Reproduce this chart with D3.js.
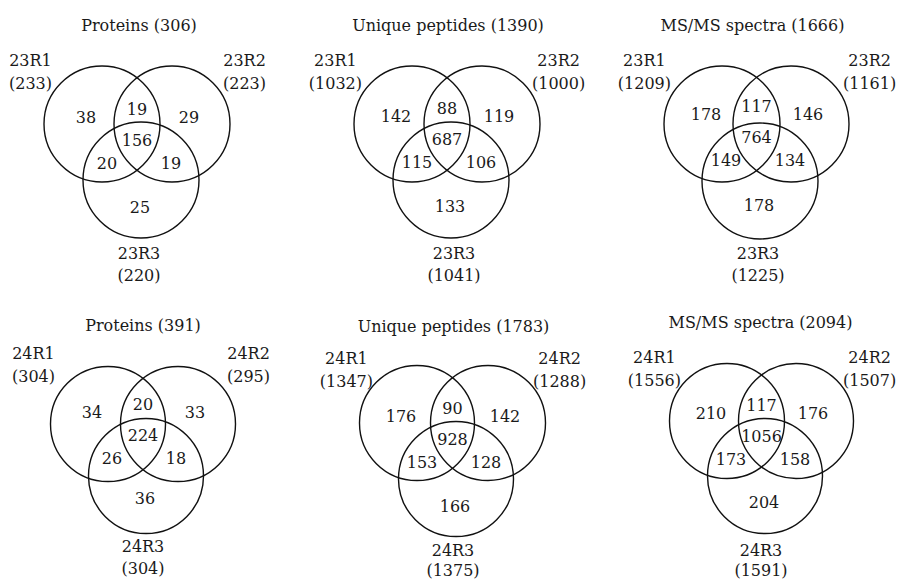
<!DOCTYPE html>
<html>
<head>
<meta charset="utf-8">
<script src="https://cdn.jsdelivr.net/npm/d3@7"></script>
<style>
  html, body { margin: 0; padding: 0; background: #fff; }
  svg text { font-family: "DejaVu Serif", "Liberation Serif", serif; fill: #1a1a1a; }
</style>
</head>
<body>
<svg id="chart" width="898" height="580"></svg>
<script>
// ---------------- DATA ----------------
const panelTitles = ["Proteins", "Unique peptides", "MS/MS spectra", "Proteins", "Unique peptides", "MS/MS spectra"];
const panelTotals = [306, 1390, 1666, 391, 1783, 2094];
const setNames = [
  ["23R1", "23R2", "23R3"], ["23R1", "23R2", "23R3"], ["23R1", "23R2", "23R3"],
  ["24R1", "24R2", "24R3"], ["24R1", "24R2", "24R3"], ["24R1", "24R2", "24R3"]
];
const setTotals = [
  [233, 223, 220], [1032, 1000, 1041], [1209, 1161, 1225],
  [304, 295, 304], [1347, 1288, 1375], [1556, 1507, 1591]
];
// region order: R1 only, R1∩R2, R2 only, all three, R1∩R3, R2∩R3, R3 only
const regionKeys = ["A", "AB", "B", "ABC", "AC", "BC", "C"];
const regionCounts = [
  [38, 19, 29, 156, 20, 19, 25],
  [142, 88, 119, 687, 115, 106, 133],
  [178, 117, 146, 764, 149, 134, 178],
  [34, 20, 33, 224, 26, 18, 36],
  [176, 90, 142, 928, 153, 128, 166],
  [210, 117, 176, 1056, 173, 158, 204]
];

// ---------------- LAYOUT ----------------
const layout = [
  {ax: 102, ay: 124, d: 70, cdx: 39, cdy: 56, r: 58, rdy: 0,  lx: 50, rx: 51, ny: -64, c3x: -2, c3y: 73, c3g: 22, ty: -99, tx: 2},
  {ax: 412, ay: 124, d: 70, cdx: 39, cdy: 56, r: 58, rdy: -1, lx: 50, rx: 50, ny: -64, c3x: 3,  c3y: 73, c3g: 22, ty: -99, tx: 1},
  {ax: 722, ay: 124, d: 69, cdx: 38, cdy: 57, r: 58, rdy: -3, lx: 51, rx: 52, ny: -64, c3x: -2, c3y: 72, c3g: 22, ty: -99, tx: -4},
  {ax: 108, ay: 424, d: 70, cdx: 38, cdy: 52, r: 57.5, rdy: -5, lx: 53, rx: 49, ny: -71, c3x: -3, c3y: 70, c3g: 22, ty: -99, tx: 0},
  {ax: 417, ay: 423, d: 71, cdx: 39, cdy: 56, r: 57.5, rdy: 0, lx: 44, rx: 45, ny: -65, c3x: -3, c3y: 71, c3g: 20, ty: -97, tx: 1},
  {ax: 727, ay: 421, d: 69, cdx: 38, cdy: 55, r: 57.5, rdy: -1, lx: 46, rx: 47, ny: -64, c3x: -4, c3y: 74, c3g: 20, ty: -99, tx: -1}
];
const fontSize = 16;
const lineGap = 23;

const svg = d3.select("#chart");

layout.forEach((L, i) => {
  // unit-space scales: circle A at (0,0), B at (1,0)
  const x = d3.scaleLinear().domain([0, 1]).range([L.ax, L.ax + L.d]);
  const y = d3.scaleLinear().domain([0, 1]).range([L.ay, L.ay + L.d]);
  const cU = [L.cdx / L.d, L.cdy / L.d];
  const centers = [[0, 0], [1, 0], cU];

  const g = svg.append("g");

  g.selectAll("circle").data(centers).enter().append("circle")
    .attr("cx", c => x(c[0])).attr("cy", c => y(c[1])).attr("r", L.r)
    .attr("fill", "none").attr("stroke", "#111").attr("stroke-width", 1.4);

  const ax = x(0), bx = x(1), cx = x(cU[0]), cy = y(cU[1]), ay = y(0);
  const mid = (ax + bx) / 2;
  const pos = {
    A:   [ax - 16, ay - 7],
    AB:  [mid, ay - 15],
    B:   [bx + 17, ay - 7],
    ABC: [mid, ay + 16],
    AC:  [cx - 34, ay + 39],
    BC:  [cx + 30, ay + 39],
    C:   [cx - 1, cy + 27]
  };

  g.selectAll("text.region").data(regionCounts[i]).enter().append("text")
    .attr("class", "region")
    .attr("x", (v, k) => pos[regionKeys[k]][0])
    .attr("y", (v, k) => pos[regionKeys[k]][1] + L.rdy)
    .attr("dy", "0.36em")
    .attr("text-anchor", "middle")
    .attr("font-size", fontSize)
    .text(v => v);

  // title
  g.append("text")
    .attr("x", mid + L.tx).attr("y", ay + L.ty).attr("dy", "0.36em")
    .attr("text-anchor", "middle").attr("font-size", fontSize)
    .text(`${panelTitles[i]} (${panelTotals[i]})`);

  // left set label (R1): count right-aligned, name centred over it
  const leftCount = g.append("text")
    .attr("x", ax - L.lx).attr("y", ay + L.ny + lineGap).attr("dy", "0.36em")
    .attr("text-anchor", "end").attr("font-size", fontSize)
    .text(`(${setTotals[i][0]})`);
  const lw = leftCount.node().getComputedTextLength();
  g.append("text")
    .attr("x", ax - L.lx - lw / 2).attr("y", ay + L.ny).attr("dy", "0.36em")
    .attr("text-anchor", "middle").attr("font-size", fontSize)
    .text(setNames[i][0]);

  // right set label (R2): count left-aligned, name centred over it
  const rightCount = g.append("text")
    .attr("x", bx + L.rx).attr("y", ay + L.ny + lineGap).attr("dy", "0.36em")
    .attr("text-anchor", "start").attr("font-size", fontSize)
    .text(`(${setTotals[i][1]})`);
  const rw = rightCount.node().getComputedTextLength();
  g.append("text")
    .attr("x", bx + L.rx + rw / 2).attr("y", ay + L.ny).attr("dy", "0.36em")
    .attr("text-anchor", "middle").attr("font-size", fontSize)
    .text(setNames[i][1]);

  // bottom set label (R3)
  g.append("text")
    .attr("x", cx + L.c3x).attr("y", cy + L.c3y).attr("dy", "0.36em")
    .attr("text-anchor", "middle").attr("font-size", fontSize)
    .text(setNames[i][2]);
  g.append("text")
    .attr("x", cx + L.c3x).attr("y", cy + L.c3y + L.c3g).attr("dy", "0.36em")
    .attr("text-anchor", "middle").attr("font-size", fontSize)
    .text(`(${setTotals[i][2]})`);
});
</script>
</body>
</html>
